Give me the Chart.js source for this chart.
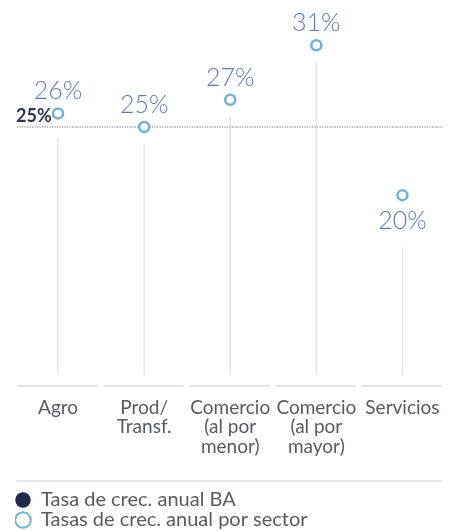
<!DOCTYPE html>
<html>
<head>
<meta charset="utf-8">
<script src="https://cdn.jsdelivr.net/npm/chart.js@4"></script>
<style>
  html, body { margin: 0; padding: 0; background: #fff; }
  #wrap { width: 453px; height: 531px; }
</style>
</head>
<body>
<div id="wrap"><canvas id="tasasChart"></canvas></div>
<script>
// Datos
const sectores = ['Agro', ['Prod/', 'Transf.'], ['Comercio', '(al por', 'menor)'], ['Comercio', '(al por', 'mayor)'], 'Servicios'];
const tasasSector = [26, 25, 27, 31, 20];
const tasaBA = 25;
const leyenda = ['Tasa de crec. anual BA', 'Tasas de crec. anual por sector'];

// Colores
const AZUL = '#72b0dc';
const AZUL_TEXTO = '#5a7db3';
const MARINO = '#1f2a4d';
const GRIS_TEXTO = '#555a63';
const GRIS_LINEA = '#e2e4ea';

const fmt = v => v + '%';

// Líneas guía: tallos, separadores, línea punteada BA
const guias = {
    id: 'guias',
    beforeDatasetsDraw(chart) {
        const { ctx, chartArea, scales: { x, y } } = chart;
        const yBA = y.getPixelForValue(tasaBA);
        const ancho = x.width / sectores.length;
        ctx.save();

        // tallos verticales
        ctx.strokeStyle = GRIS_LINEA;
        ctx.lineWidth = 1.5;
        tasasSector.forEach((v, i) => {
            const px = x.getPixelForValue(i);
            const py = y.getPixelForValue(v);
            let y0 = v < tasaBA ? py + 52 : py + 17;
            if (i === 0) y0 = Math.max(y0, yBA + 11);
            ctx.beginPath();
            ctx.moveTo(px, y0);
            ctx.lineTo(px, chartArea.bottom - 11);
            ctx.stroke();
        });

        // separadores bajo cada columna
        ctx.lineWidth = 2;
        sectores.forEach((s, i) => {
            const px = x.getPixelForValue(i);
            ctx.beginPath();
            ctx.moveTo(px - ancho / 2 + 2.5, chartArea.bottom);
            ctx.lineTo(px + ancho / 2 - 3.5, chartArea.bottom);
            ctx.stroke();
        });

        // separador sobre la leyenda
        const ley = chart.legend;
        ctx.beginPath();
        ctx.moveTo(chartArea.left + 2, ley.top - 9);
        ctx.lineTo(chartArea.right - 3, ley.top - 9);
        ctx.stroke();

        // línea punteada de la tasa BA
        ctx.strokeStyle = '#9a9ea6';
        ctx.lineWidth = 1.5;
        ctx.setLineDash([1.2, 1.3]);
        ctx.beginPath();
        ctx.moveTo(chartArea.left + 2, yBA);
        ctx.lineTo(chartArea.right - 3, yBA);
        ctx.stroke();
        ctx.setLineDash([]);

        // etiqueta BA
        ctx.fillStyle = '#2b3453';
        ctx.font = 'bold 18px Lato';
        ctx.textAlign = 'left';
        ctx.textBaseline = 'alphabetic';
        ctx.fillText(fmt(tasaBA), chartArea.left + 1, yBA - 5);
        ctx.restore();
    },
    afterDatasetsDraw(chart) {
        const { ctx, scales: { x, y } } = chart;
        ctx.save();
        ctx.fillStyle = AZUL_TEXTO;
        ctx.font = '300 25px Lato';
        ctx.textAlign = 'center';
        ctx.textBaseline = 'middle';
        tasasSector.forEach((v, i) => {
            const px = x.getPixelForValue(i);
            const py = y.getPixelForValue(v);
            const ty = v < tasaBA ? py + 26 : py - 22;
            ctx.fillText(fmt(v), px, ty);
        });
        ctx.restore();
    }
};

const ctx = document.getElementById('tasasChart').getContext('2d');
new Chart(ctx, {
    type: 'line',
    data: {
        labels: sectores,
        datasets: [{
            label: leyenda[1],
            data: tasasSector,
            showLine: false,
            pointRadius: 5,
            pointHoverRadius: 5,
            pointBorderWidth: 2.5,
            pointBorderColor: AZUL,
            pointBackgroundColor: '#fff'
        }]
    },
    options: {
        responsive: true,
        maintainAspectRatio: false,
        animation: false,
        layout: { padding: { top: 18, left: 15, right: 4, bottom: -9 } },
        scales: {
            x: {
                offset: true,
                grid: { display: false, drawTicks: false },
                border: { display: false },
                ticks: {
                    color: GRIS_TEXTO,
                    font: { family: 'Lato', size: 19, lineHeight: 1.03 },
                    padding: 12,
                    maxRotation: 0,
                    autoSkip: false
                },
                afterFit: (scale) => { scale.height = 104; }
            },
            y: { display: false, min: 6, max: 33 }
        },
        plugins: {
            tooltip: { enabled: false },
            legend: {
                position: 'bottom',
                align: 'start',
                labels: {
                    usePointStyle: true,
                    boxWidth: 16,
                    boxHeight: 11,
                    padding: 0,
                    color: GRIS_TEXTO,
                    font: { family: 'Lato', size: 20 },
                    generateLabels: () => [
                        { text: leyenda[0], pointStyle: 'circle', fillStyle: MARINO, strokeStyle: MARINO, lineWidth: 0, fontColor: GRIS_TEXTO, hidden: false },
                        { text: leyenda[1], pointStyle: 'circle', fillStyle: '#fff', strokeStyle: AZUL, lineWidth: 2, fontColor: GRIS_TEXTO, hidden: false, datasetIndex: 0 }
                    ]
                }
            }
        }
    },
    plugins: [guias]
});
</script>
</body>
</html>
